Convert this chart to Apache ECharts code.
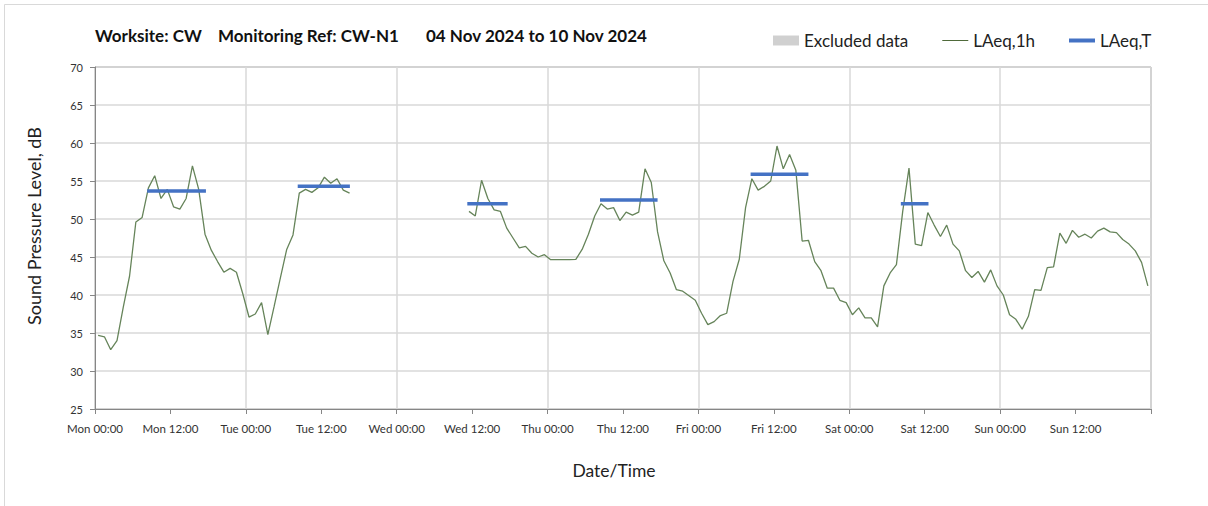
<!DOCTYPE html>
<html>
<head>
<meta charset="utf-8">
<script src="https://cdn.jsdelivr.net/npm/echarts@6/dist/echarts.min.js"></script>
<style>
  html, body { margin: 0; padding: 0; background: #ffffff; }
  #chart { width: 1208px; height: 506px; }
</style>
</head>
<body>
<div id="chart"></div>
<script>
// ---- Data ----
const xTickLabels = ['Mon 00:00','Mon 12:00','Tue 00:00','Tue 12:00','Wed 00:00','Wed 12:00',
  'Thu 00:00','Thu 12:00','Fri 00:00','Fri 12:00','Sat 00:00','Sat 12:00','Sun 00:00','Sun 12:00'];

// Hourly LAeq,1h values, hour 0 = Mon 00:00 (null = no data)
const laeq1h = [
  34.7, 34.5, 32.8, 34.0, 38.4, 42.5, 49.6, 50.2, 54.1, 55.7, 52.7, 53.9,
  51.6, 51.3, 52.7, 57.0, 53.9, 48.0, 45.9, 44.4, 43.0, 43.5, 43.0, 40.2,
  37.1, 37.5, 39.0, 34.8, 38.5, 42.3, 46.0, 47.9, 53.4, 53.9, 53.5, 54.1,
  55.5, 54.7, 55.3, 53.8, 53.4, null, null, null, null, null, null, null,
  null, null, null, null, null, null, null, null, null, null, null, 51.0,
  50.4, 55.1, 52.7, 51.2, 51.0, 48.8, 47.5, 46.2, 46.4, 45.5, 45.0, 45.3,
  44.65, 44.65, 44.65, 44.65, 44.7, 46.0, 48.0, 50.4, 52.0, 51.3, 51.5, 49.8,
  50.9, 50.5, 50.9, 56.6, 54.8, 48.3, 44.5, 42.9, 40.7, 40.5, 39.9, 39.3,
  37.6, 36.1, 36.5, 37.3, 37.6, 41.8, 44.7, 51.5, 55.3, 53.8, 54.3, 55.0,
  59.6, 56.6, 58.5, 56.4, 47.1, 47.2, 44.4, 43.2, 40.9, 40.9, 39.3, 39.0,
  37.4, 38.3, 37.0, 37.0, 35.8, 41.2, 42.9, 44.0, 51.0, 56.7, 46.7, 46.5,
  50.85, 49.2, 47.7, 49.2, 46.7, 45.8, 43.2, 42.3, 43.1, 41.7, 43.3, 41.2,
  40.0, 37.4, 36.8, 35.5, 37.2, 40.7, 40.6, 43.6, 43.7, 48.15, 46.8, 48.5,
  47.6, 48.0, 47.5, 48.4, 48.8, 48.3, 48.2, 47.3, 46.7, 45.8, 44.3, 41.2
];

// LAeq,T daytime periods
const periodDay   = [0, 1, 2, 3, 4, 5];
const periodStart = [8.3, 8.25, 11.23, 8.34, 8.3, 8.2];   // clock hours
const periodEnd   = [17.65, 16.55, 17.65, 17.5, 17.5, 12.6];
const laeqT       = [53.7, 54.3, 52.0, 52.5, 55.9, 52.0];

const excluded = [];

// ---- Build series data ----
const lineData = laeq1h.map((v, i) => [i + 0.5, v == null ? '-' : v]);
const tData = [];
laeqT.forEach((v, k) => {
  const base = periodDay[k] * 24;
  tData.push([base + periodStart[k], v]);
  tData.push([base + periodEnd[k], v]);
  tData.push([base + periodEnd[k] + 0.01, '-']);
});

const FONT = 'Lato';
const titleStyle = { fontFamily: FONT, fontSize: 17, fontWeight: 'bold', color: '#111' };
const chart = echarts.init(document.getElementById('chart'), null, { renderer: 'svg' });
chart.setOption({
  backgroundColor: '#ffffff',
  animation: false,
  textStyle: { fontFamily: FONT },
  title: [
    { text: 'Worksite: CW', left: 95, top: 27, padding: 0, textStyle: titleStyle },
    { text: 'Monitoring Ref: CW-N1', left: 218, top: 27, padding: 0, textStyle: titleStyle },
    { text: '04 Nov 2024 to 10 Nov 2024', left: 426, top: 27, padding: 0, textStyle: titleStyle }
  ],
  graphic: [
    { type: 'rect', shape: { x: 4.5, y: 4.5, width: 1400, height: 700 }, style: { fill: 'none', stroke: '#d9d9d9', lineWidth: 1 }, silent: true, z: -10 }
  ],
  legend: {
    left: 773, top: 32, padding: 0,
    itemWidth: 26, itemHeight: 10, itemGap: 34,
    textStyle: { fontFamily: FONT, fontSize: 17, color: '#222' },
    data: [
      { name: 'Excluded data', icon: 'rect' },
      { name: 'LAeq,1h', icon: 'path://M0,0H26V1H0Z' },
      { name: 'LAeq,T', icon: 'path://M0,0H26V4H0Z' }
    ]
  },
  grid: { left: 95, right: 57, top: 67, bottom: 97, show: true, borderColor: '#868686', borderWidth: 1, backgroundColor: 'transparent' },
  xAxis: [
    {
      type: 'value', min: 0, max: 168, interval: 12,
      name: 'Date/Time', nameLocation: 'middle', nameGap: 52,
      nameTextStyle: { fontFamily: FONT, fontSize: 17.5, color: '#222', padding: [0, 18, 0, 0] },
      axisLine: { show: true, lineStyle: { color: '#868686', width: 1 } },
      axisTick: { show: true, length: 5, lineStyle: { color: '#868686' } },
      axisLabel: {
        margin: 13, fontFamily: FONT, fontSize: 11.5, color: '#333',
        formatter: v => xTickLabels[Math.round(v / 12)] || ''
      },
      splitLine: { show: false }
    },
    {
      type: 'value', min: 0, max: 168, interval: 24, position: 'bottom',
      axisLine: { show: false }, axisTick: { show: false }, axisLabel: { show: false },
      splitLine: { show: true, lineStyle: { color: '#d9d9d9', width: 1.5 } }
    }
  ],
  yAxis: {
    type: 'value', min: 25, max: 70, interval: 5,
    name: 'Sound Pressure Level, dB', nameLocation: 'middle', nameGap: 52,
    nameTextStyle: { fontFamily: FONT, fontSize: 18, color: '#222', padding: [0, 0, 0, 24] },
    axisLine: { show: true, lineStyle: { color: '#868686', width: 1 } },
    axisTick: { show: true, length: 5, lineStyle: { color: '#868686' } },
    axisLabel: { margin: 12, fontFamily: FONT, fontSize: 11, color: '#333' },
    splitLine: { show: true, lineStyle: { color: '#d9d9d9', width: 1.5 } }
  },
  series: [
    {
      name: 'Excluded data', type: 'bar', data: excluded,
      itemStyle: { color: '#d0d0d0' }
    },
    {
      name: 'LAeq,1h', type: 'line', data: lineData,
      showSymbol: false, symbol: 'none', connectNulls: false,
      lineStyle: { color: '#66845a', width: 1.3 },
      itemStyle: { color: '#4f6a3a' },
      z: 3
    },
    {
      name: 'LAeq,T', type: 'line', data: tData,
      showSymbol: false, symbol: 'none', connectNulls: false,
      lineStyle: { color: '#4472c4', width: 3.5 },
      itemStyle: { color: '#4472c4' },
      z: 4
    }
  ]
});
</script>
</body>
</html>
